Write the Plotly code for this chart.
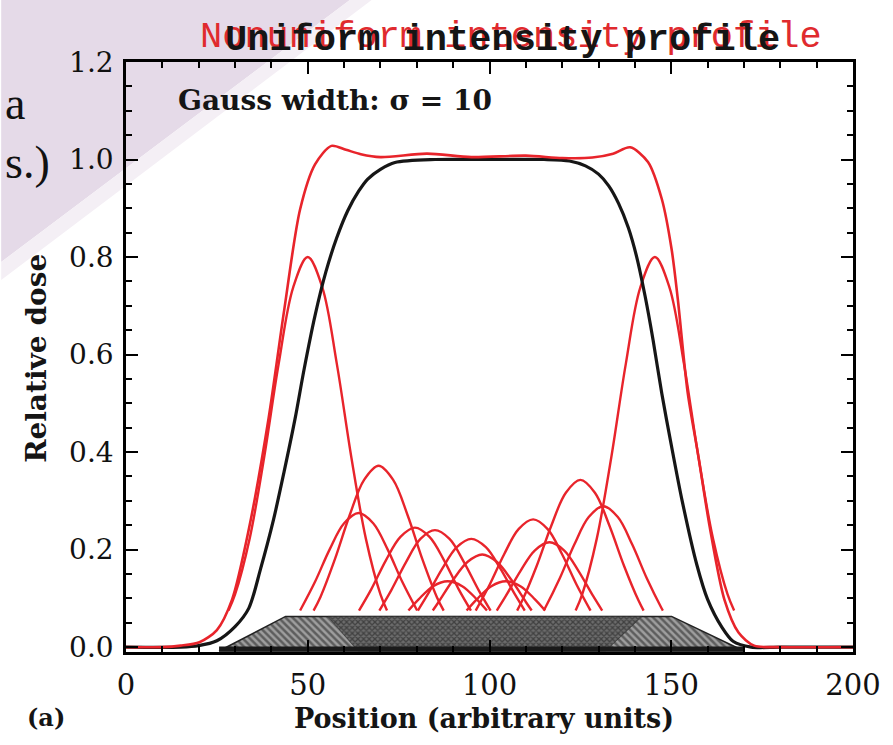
import plotly.graph_objects as go

# ---------------- data ----------------
x_ticks = [0, 50, 100, 150, 200]
y_ticks = [0.0, 0.2, 0.4, 0.6, 0.8, 1.0, 1.2]

# black: desired (uniform) profile
black_x = [0, 15, 20, 25, 30, 33.8, 37, 40.6, 43.5, 46.5, 49, 52, 55, 58, 61, 64,
           66.5, 70, 74, 85, 100, 115, 122, 126.4, 130, 132.8, 135.5, 138.2, 140.5,
           142.8, 145, 147.4, 150, 153, 157, 160, 164, 167, 172, 180, 200]
black_y = [0, 0, 0.003, 0.013, 0.042, 0.08, 0.16, 0.262, 0.36, 0.468, 0.57, 0.68,
           0.77, 0.84, 0.895, 0.935, 0.96, 0.98, 0.994, 1.0, 1.0, 1.0, 0.997, 0.987,
           0.97, 0.946, 0.91, 0.86, 0.8, 0.72, 0.63, 0.52, 0.415, 0.3, 0.17, 0.098,
           0.04, 0.012, 0.0, 0, 0]

# red: summed dose
sum_x = [0, 10, 15, 20.2, 25, 29.2, 33.8, 39.2, 43.5, 47.9, 52, 56.5, 60.5, 64.6,
         70, 82.8, 95, 110, 120, 128.3, 134, 138.7, 143.6, 147.4, 150.1, 151.8,
         154.5, 157.5, 160.5, 164.6, 168.5, 172.8, 180, 200]
sum_y = [0, 0, 0.003, 0.01, 0.035, 0.098, 0.242, 0.468, 0.69, 0.898, 0.99, 1.028,
         1.02, 1.011, 1.005, 1.012, 1.005, 1.008, 1.003, 1.004, 1.012, 1.025, 0.995,
         0.919, 0.816, 0.714, 0.523, 0.39, 0.25, 0.098, 0.03, 0.003, 0, 0]

# red: individual beam contributions (sampled points)
beam_A_x = [28.2, 30, 34, 38, 42, 46, 50, 54, 58, 62, 66, 70, 71.8]
beam_A_y = [0.075, 0.108, 0.222, 0.389, 0.581, 0.738, 0.8, 0.738, 0.581, 0.389, 0.222, 0.108, 0.075]
beam_B_x = [51.6, 53.5, 57.5, 61.5, 65.5, 69.5, 73.5, 77.5, 81.5, 85.5, 87.4]
beam_B_y = [0.075, 0.103, 0.181, 0.270, 0.343, 0.372, 0.343, 0.270, 0.181, 0.103, 0.075]
beam_C_x = [47.9, 52, 56, 60, 64, 68, 72, 76, 80.1]
beam_C_y = [0.075, 0.134, 0.200, 0.254, 0.275, 0.254, 0.200, 0.134, 0.075]
beam_D_x = [64.1, 67.5, 71.5, 75.5, 79.5, 83.5, 87.5, 91.5, 94.9]
beam_D_y = [0.075, 0.119, 0.178, 0.226, 0.245, 0.226, 0.178, 0.119, 0.075]
beam_E_x = [69.7, 73, 77, 81, 85, 89, 93, 97, 100.3]
beam_E_y = [0.075, 0.117, 0.174, 0.222, 0.24, 0.222, 0.174, 0.117, 0.075]
beam_F_x = [80.3, 83, 87, 91, 95, 99, 103, 107, 109.7]
beam_F_y = [0.075, 0.108, 0.161, 0.205, 0.222, 0.205, 0.161, 0.108, 0.075]
beam_G_x = [84.4, 86, 90, 94, 98, 102, 106, 110, 111.6]
beam_G_y = [0.075, 0.0925, 0.138, 0.175, 0.19, 0.175, 0.138, 0.0925, 0.075]
beam_H_x = [77.7, 80.5, 84.5, 88.5, 92.5, 96.5, 99.3]
beam_H_y = [0.075, 0.098, 0.125, 0.135, 0.125, 0.098, 0.075]
beam_I_x = [93.7, 96.5, 100.5, 104.5, 108.5, 112.5, 115.3]
beam_I_y = [0.075, 0.098, 0.125, 0.135, 0.125, 0.098, 0.075]
beam_J_x = [96.2, 100, 104, 108, 112, 116, 120, 124, 127.8]
beam_J_y = [0.075, 0.1275, 0.190, 0.242, 0.262, 0.242, 0.190, 0.1275, 0.075]
beam_K_x = [102, 104.5, 108.5, 112.5, 116.5, 120.5, 124.5, 128.5, 131]
beam_K_y = [0.075, 0.105, 0.156, 0.1985, 0.215, 0.1985, 0.156, 0.105, 0.075]
beam_L_x = [107.6, 109, 113, 117, 121, 125, 129, 133, 137, 141, 142.4]
beam_L_y = [0.075, 0.0954, 0.167, 0.249, 0.3166, 0.343, 0.3166, 0.249, 0.167, 0.0954, 0.075]
beam_M_x = [114.9, 115.3, 119.3, 123.3, 127.3, 131.3, 135.3, 139.3, 143.3, 147.3, 147.7]
beam_M_y = [0.075, 0.0803, 0.1407, 0.2098, 0.2668, 0.289, 0.2668, 0.2098, 0.1407, 0.0803, 0.075]
beam_N_x = [123.7, 125.5, 129.5, 133.5, 137.5, 141.5, 145.5, 149.5, 153.5, 157.5, 161.5, 165.5, 167.3]
beam_N_y = [0.075, 0.108, 0.222, 0.389, 0.581, 0.738, 0.8, 0.738, 0.581, 0.389, 0.222, 0.108, 0.075]

beams = [(beam_A_x, beam_A_y), (beam_B_x, beam_B_y), (beam_C_x, beam_C_y),
         (beam_D_x, beam_D_y), (beam_E_x, beam_E_y), (beam_F_x, beam_F_y),
         (beam_G_x, beam_G_y), (beam_H_x, beam_H_y), (beam_I_x, beam_I_y),
         (beam_J_x, beam_J_y), (beam_K_x, beam_K_y), (beam_L_x, beam_L_y),
         (beam_M_x, beam_M_y), (beam_N_x, beam_N_y)]

# hatched strip at the bottom
band_outer_x = [25.6, 43.9, 150.1, 170, 25.6]
band_outer_y = [-0.008, 0.063, 0.063, -0.008, -0.008]
band_inner_x = [63.8, 55.6, 142, 131.9, 63.8]
band_inner_y = [-0.008, 0.063, 0.063, -0.008, -0.008]

# ---------------- figure ----------------
RED = "#e8242b"
BLACK = "#161616"
SERIF = "DejaVu Serif"

fig = go.Figure()

fig.add_trace(go.Scatter(
    x=band_outer_x, y=band_outer_y, mode="lines", fill="toself",
    line=dict(color="#222222", width=1.5),
    fillcolor="#808080",
    fillpattern=dict(shape="\\", fgcolor="#1c1c1c", bgcolor="#9e9e9e", size=5, solidity=0.5),
    hoverinfo="skip", showlegend=False))
fig.add_trace(go.Scatter(
    x=band_inner_x, y=band_inner_y, mode="lines", fill="toself",
    line=dict(color="#2a2a2a", width=0.5),
    fillcolor="#444444",
    fillpattern=dict(shape="x", fgcolor="#151515", bgcolor="#6c6c6c", size=4, solidity=0.55),
    hoverinfo="skip", showlegend=False))
fig.add_trace(go.Scatter(
    x=[band_outer_x[0], band_outer_x[3]], y=[-0.004, -0.004], mode="lines",
    line=dict(color="#1a1a1a", width=5), hoverinfo="skip", showlegend=False))

for bx, by in beams:
    fig.add_trace(go.Scatter(x=bx, y=by, mode="lines",
                             line=dict(color=RED, width=2.4, shape="spline", smoothing=1.0),
                             hoverinfo="skip", showlegend=False))

fig.add_trace(go.Scatter(x=black_x, y=black_y, mode="lines",
                         line=dict(color=BLACK, width=3.2, shape="spline", smoothing=0.8),
                         hoverinfo="skip", showlegend=False))
fig.add_trace(go.Scatter(x=sum_x, y=sum_y, mode="lines",
                         line=dict(color=RED, width=2.6, shape="spline", smoothing=0.8),
                         hoverinfo="skip", showlegend=False))

W, H = 893, 745
L, R, T, B = 126, 33, 62, 93


def px(xp):
    return (xp - L) / (W - L - R)


def py(yp):
    return (H - B - yp) / (H - T - B)


# purple slide overlay top-left
tri = f"M {px(0)},{py(0)} L {px(352)},{py(0)} L {px(0)},{py(262)} Z"
band = f"M {px(352)},{py(0)} L {px(374)},{py(0)} L {px(0)},{py(280)} L {px(0)},{py(262)} Z"
fig.add_shape(type="path", path=tri, xref="paper", yref="paper", layer="below",
              fillcolor="#e5dae8", line=dict(width=0))
fig.add_shape(type="path", path=band, xref="paper", yref="paper", layer="below",
              fillcolor="#f4eff5", line=dict(width=0))

axis_common = dict(
    showline=True, linecolor="black", linewidth=2.5, mirror="allticks",
    ticks="inside", tickcolor="black", tickwidth=2, ticklen=12,
    showgrid=False, zeroline=False,
)
fig.update_xaxes(range=[0, 200], tickvals=x_ticks, ticktext=[str(v) for v in x_ticks],
                 minor=dict(dtick=10, ticks="inside", ticklen=6, tickwidth=1.5, tickcolor="black"),
                 ticklabelstandoff=5, tickfont=dict(family=SERIF, size=29, color="#111"),
                 **axis_common)
fig.update_yaxes(range=[-0.01, 1.2], tickvals=y_ticks, ticktext=[f"{v:.1f}" for v in y_ticks],
                 minor=dict(dtick=0.05, tick0=0, ticks="inside", ticklen=6, tickwidth=1.5, tickcolor="black"),
                 ticklabelstandoff=4, tickfont=dict(family=SERIF, size=28, color="#111"),
                 **axis_common)

ann = []
# titles (red scan ghost behind, black on top)
ann.append(dict(text="Nonuniform intensity profile", x=px(515), y=py(37), xref="paper", yref="paper",
                showarrow=False, font=dict(family="Liberation Mono", size=37, color="#e02a2e"),
                xanchor="center", yanchor="middle"))
ann.append(dict(text="<b>Uniform intensity profile</b>", x=px(506), y=py(40), xref="paper", yref="paper",
                showarrow=False, font=dict(family="Liberation Mono", size=37, color="#151515"),
                xanchor="center", yanchor="middle"))
ann.append(dict(text="<b>Gauss width: σ = 10</b>", x=px(176), y=py(100), xref="paper", yref="paper",
                showarrow=False, font=dict(family=SERIF, size=28, color="#151515"),
                xanchor="left", yanchor="middle"))
ann.append(dict(text="<b>Position (arbitrary units)</b>", x=px(487), y=py(718), xref="paper", yref="paper",
                showarrow=False, font=dict(family=SERIF, size=27, color="#151515"),
                xanchor="center", yanchor="middle"))
ann.append(dict(text="<b>Relative dose</b>", x=px(35), y=py(358), xref="paper", yref="paper",
                showarrow=False, textangle=-90, font=dict(family=SERIF, size=28, color="#151515"),
                xanchor="center", yanchor="middle"))
ann.append(dict(text="<b>(a)</b>", x=px(45), y=py(717), xref="paper", yref="paper",
                showarrow=False, font=dict(family=SERIF, size=24, color="#151515"),
                xanchor="center", yanchor="middle"))
# fragments of the slide text behind the figure (left edge)
ann.append(dict(text="a", x=px(2), y=py(103), xref="paper", yref="paper",
                showarrow=False, font=dict(family="Liberation Serif", size=46, color="#111"),
                xanchor="left", yanchor="middle"))
ann.append(dict(text="s.)", x=px(2), y=py(162), xref="paper", yref="paper",
                showarrow=False, font=dict(family="Liberation Serif", size=46, color="#111"),
                xanchor="left", yanchor="middle"))

fig.update_layout(
    width=W, height=H,
    margin=dict(l=L, r=R, t=T, b=B),
    paper_bgcolor="white", plot_bgcolor="rgba(0,0,0,0)",
    annotations=ann, showlegend=False,
)

fig.write_html("out.html")
